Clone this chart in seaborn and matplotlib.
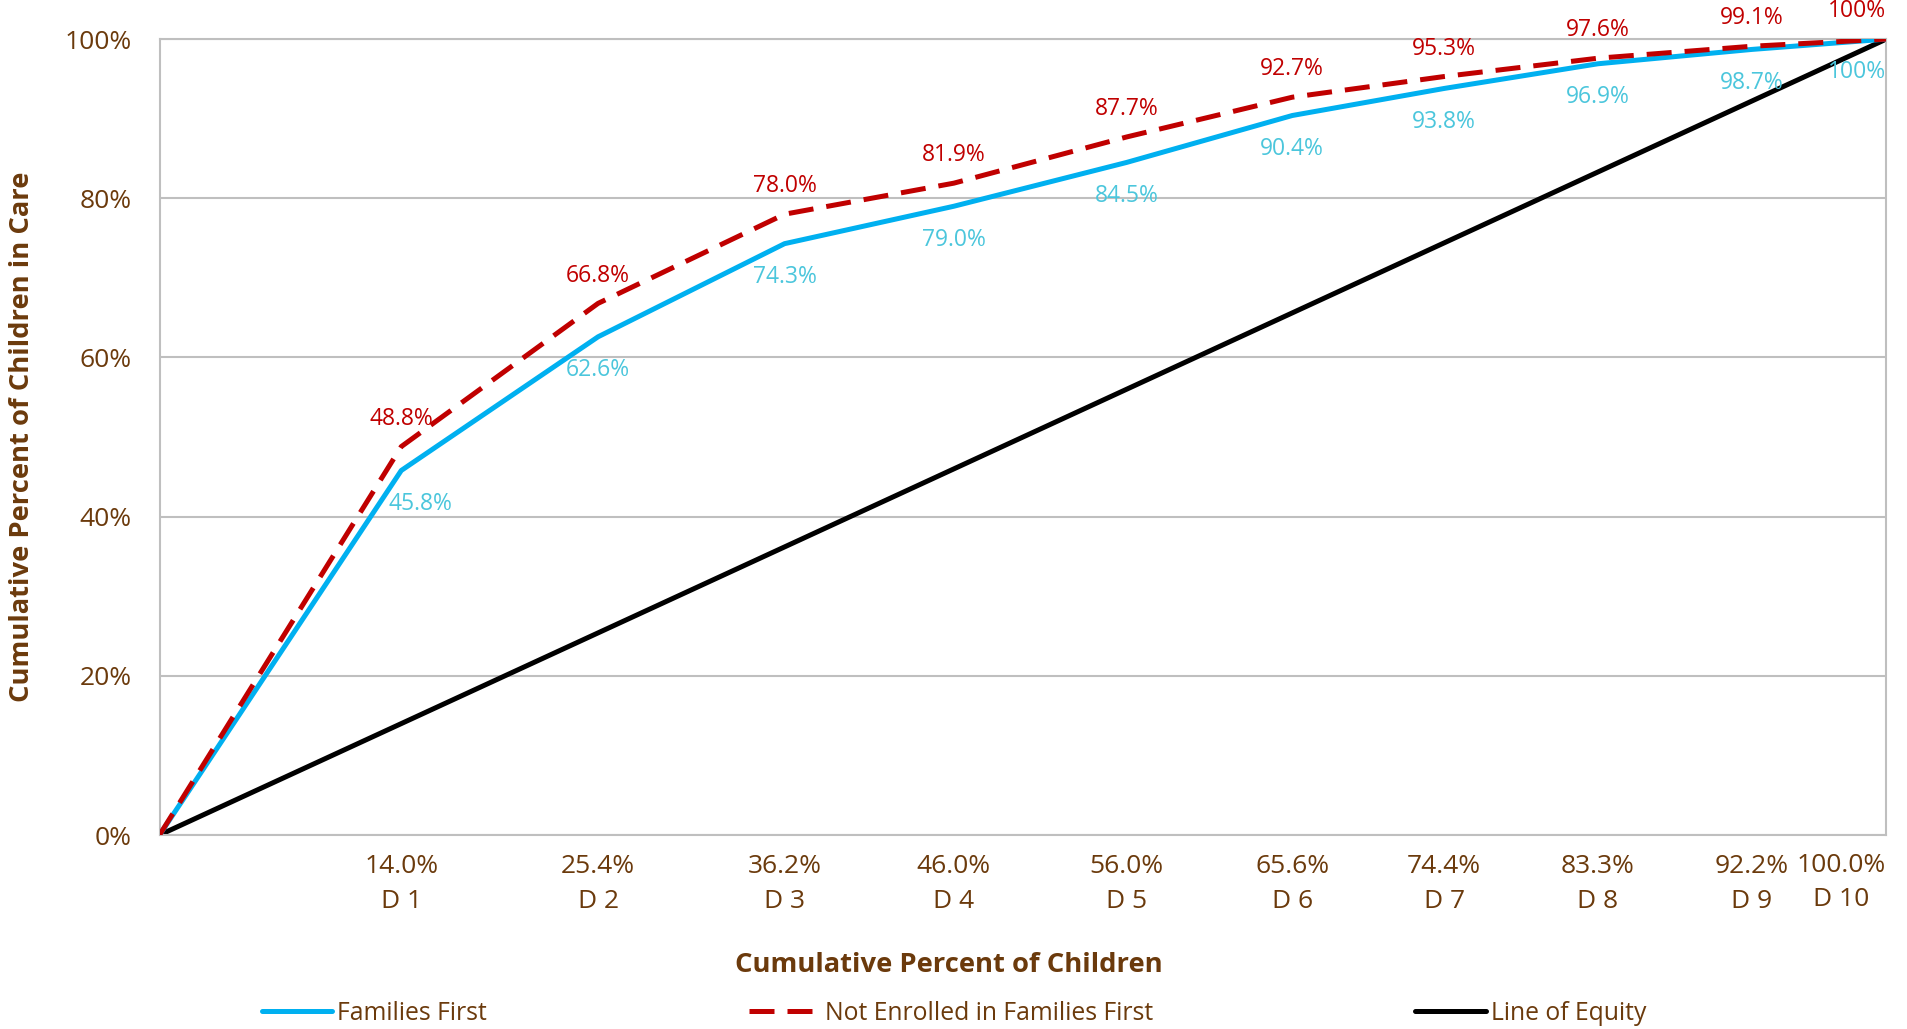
import pandas as pd
import matplotlib.pyplot as plt
import seaborn as sns

# Cumulative share of children by decile (x) and share in care (y)
deciles = ['D 1', 'D 2', 'D 3', 'D 4', 'D 5', 'D 6', 'D 7', 'D 8', 'D 9', 'D 10']
cum_children = [0.140, 0.254, 0.362, 0.460, 0.560, 0.656, 0.744, 0.833, 0.922, 1.000]
families_first = [0.458, 0.626, 0.743, 0.790, 0.845, 0.904, 0.938, 0.969, 0.987, 1.000]
not_enrolled = [0.488, 0.668, 0.780, 0.819, 0.877, 0.927, 0.953, 0.976, 0.991, 1.000]
equity_x = [0.0, 1.0]
equity_y = [0.0, 1.0]

BROWN = '#6B3A0C'
BLUE = '#00B0F0'
BLUE_TXT = '#4BC6DC'
RED = '#C00000'

sns.set_theme(style='white')
plt.rcParams['font.family'] = ['Open Sans', 'DejaVu Sans']

ff = pd.DataFrame({'x': [0.0] + cum_children, 'y': [0.0] + families_first})
ne = pd.DataFrame({'x': [0.0] + cum_children, 'y': [0.0] + not_enrolled})
eq = pd.DataFrame({'x': equity_x, 'y': equity_y})

fig, ax = plt.subplots(figsize=(19.08, 10.29), dpi=100)
fig.subplots_adjust(left=0.0836, right=0.9886, top=0.962, bottom=0.1885)

sns.lineplot(data=ff, x='x', y='y', ax=ax, color=BLUE, lw=3.6, sort=False,
             label='Families First', zorder=3)
sns.lineplot(data=ne, x='x', y='y', ax=ax, color=RED, lw=3.6, sort=False,
             label='Not Enrolled in Families First', zorder=4)
ax.lines[-1].set_dashes([5, 2.6])
sns.lineplot(data=eq, x='x', y='y', ax=ax, color='black', lw=3.6, sort=False,
             label='Line of Equity', zorder=2)

# data labels
for i, (x, a, b) in enumerate(zip(cum_children, families_first, not_enrolled)):
    last = i == len(cum_children) - 1
    ha = 'right' if last else 'center'
    txt_b = '100%' if last else f'{b*100:.1f}%'
    txt_a = '100%' if last else f'{a*100:.1f}%'
    ax.annotate(txt_b, (x, b), xytext=(0, 20), textcoords='offset points',
                ha=ha, va='center', color=RED, fontsize=16.5, clip_on=False)
    bdx = 14 if i == 0 else 0
    ax.annotate(txt_a, (x, a), xytext=(bdx, -24), textcoords='offset points',
                ha=ha, va='center', color=BLUE_TXT, fontsize=16.5)

ax.set_xlim(0, 1)
ax.set_ylim(0, 1)
ax.set_yticks([0, 0.2, 0.4, 0.6, 0.8, 1.0])
ax.set_yticklabels(['0%', '20%', '40%', '60%', '80%', '100%'])
ax.set_xticks(cum_children)
xlabels = [f'{x*100:.1f}%\n{d}' for x, d in zip(cum_children, deciles)]
ax.set_xticklabels(xlabels[:-1] + [''], linespacing=1.5)
# last label would run off the figure, so right-align it at the axis end
ax.text(1.0, -0.022, xlabels[-1], transform=ax.get_xaxis_transform(),
        ha='right', va='top', ma='center', fontsize=19, color=BROWN, linespacing=1.5)
ax.tick_params(axis='both', length=0, labelcolor=BROWN)
ax.tick_params(axis='x', pad=14, labelsize=19)
ax.tick_params(axis='y', pad=20, labelsize=19)

ax.grid(axis='y', color='#BFBFBF', lw=1.5)
for s in ax.spines.values():
    s.set_color('#BFBFBF')
    s.set_linewidth(1.5)

ax.set_xlabel('Cumulative Percent of Children', fontsize=19.7, fontweight='bold',
              color=BROWN, va='center')
ax.xaxis.set_label_coords(0.457, -0.163)
ax.set_ylabel('Cumulative Percent of Children in Care', fontsize=19.7,
              fontweight='bold', color=BROWN, va='center')
ax.yaxis.set_label_coords(-0.0796, 0.5)

ax.get_legend().remove()
h, l = ax.get_legend_handles_labels()
leg = fig.legend(h, l, loc='center', bbox_to_anchor=(0.5, 0.0155), ncol=3,
                 frameon=False, fontsize=17.8, handlelength=2.86, handletextpad=0.2,
                 columnspacing=10.6)
for t in leg.get_texts():
    t.set_color(BROWN)

fig.savefig('out.png', dpi=100)
